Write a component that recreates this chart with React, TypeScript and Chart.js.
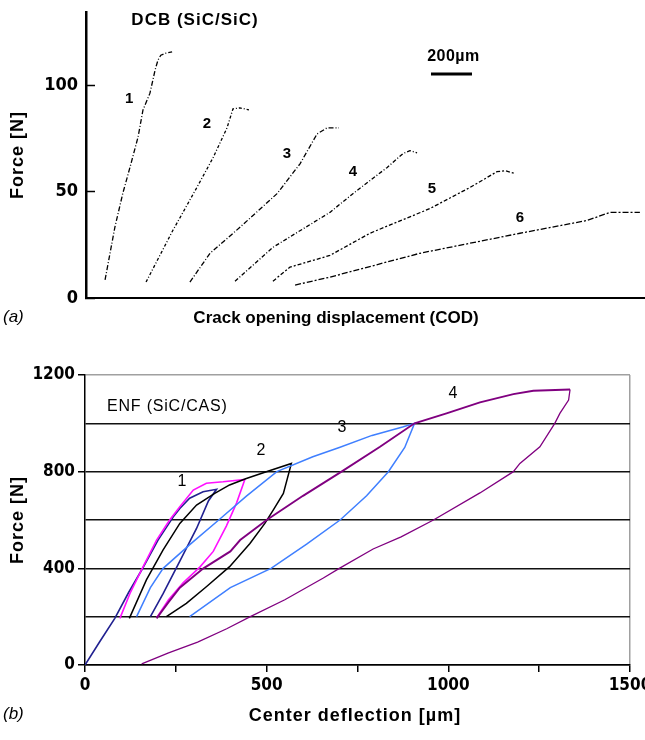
import React, { useEffect, useRef } from "react";
import { Chart, registerables } from "chart.js";

Chart.register(...registerables);

// ---------- (a) DCB (SiC/SiC): force vs crack opening displacement ----------
// x in µm (COD), y in N
const dcbCurve1: [number, number][] = [
  [93, 8.5], [141, 33.3], [180, 49.3], [215, 61.5], [254, 75.6], [278, 88.3],
  [312, 96.2], [337, 107], [351, 111.7], [365, 114], [390, 115], [420, 115.6],
];
const dcbCurve2: [number, number][] = [
  [293, 7.5], [424, 31.8], [541, 51.9], [620, 65.9], [688, 79.9], [717, 88.8],
  [751, 89.3], [795, 88.3],
];
const dcbCurve3: [number, number][] = [
  [507, 7.5], [605, 21], [751, 33.2], [932, 49], [1044, 63], [1127, 77],
  [1176, 79.9], [1234, 79.9],
];
const dcbCurve4: [number, number][] = [
  [727, 7.9], [912, 23.8], [1190, 40.2], [1302, 49], [1468, 61.2], [1546, 67.8],
  [1580, 69.2], [1615, 68.2],
];
const dcbCurve5: [number, number][] = [
  [912, 7.9], [995, 14.5], [1190, 20], [1385, 30.4], [1678, 42], [1873, 51.9],
  [2005, 59.3], [2044, 59.8], [2093, 58.4],
];
const dcbCurve6: [number, number][] = [
  [1020, 6.1], [1190, 9.8], [1629, 21], [2117, 30.4], [2444, 36.4], [2556, 40.2],
  [2639, 40.2], [2702, 40.2],
];
const dcbCurves = [dcbCurve1, dcbCurve2, dcbCurve3, dcbCurve4, dcbCurve5, dcbCurve6];
const dcbCurveNames = ["1", "2", "3", "4", "5", "6"];
const dcbNameX = [210, 590, 980, 1302, 1688, 2117];
const dcbNameY = [93.4, 81.7, 67.6, 59.2, 51.2, 37.6];
const dcbYTicks = [0, 50, 100];
const dcbXMax = 2727;
const dcbYMax = 134.3;
const scaleBarLength = 200; // µm
const scaleBarX = 1683;
const scaleBarY = 105.2;

// ---------- (b) ENF (SiC/CAS): force vs center deflection ----------
// x in µm, y in N; each cycle = loading branch followed by unloading branch
const enfCycleNavy: [number, number][] = [
  [0, 0], [40, 95], [82, 193], [120, 300], [156, 393], [201, 517], [243, 613],
  [261, 648], [288, 690], [325, 717], [362, 727],
  [340, 680], [307, 565], [261, 430], [215, 295], [180, 200],
];
const enfCycleMagenta: [number, number][] = [
  [96, 193], [124, 297], [160, 407], [197, 517], [233, 600], [261, 655],
  [298, 724], [334, 752], [380, 758], [440, 768],
  [417, 670], [389, 575], [353, 470], [316, 405], [270, 340], [230, 270], [197, 195],
];
const enfCycleBlack: [number, number][] = [
  [122, 193], [169, 352], [215, 476], [261, 586], [307, 662], [357, 710],
  [398, 745], [444, 772], [499, 800], [568, 834],
  [546, 710], [518, 641], [495, 586], [454, 503], [398, 407], [334, 324],
  [279, 255], [224, 200],
];
const enfCycleBlue: [number, number][] = [
  [142, 200], [180, 320], [215, 400], [290, 500], [368, 600], [445, 700],
  [528, 800], [627, 862], [700, 900], [790, 950], [874, 985], [907, 1000],
  [880, 900], [835, 800], [775, 700], [702, 600], [610, 500], [512, 400],
  [400, 320], [288, 200],
];
const enfCyclePurpleLoad: [number, number][] = [
  [197, 193], [230, 260], [261, 320], [326, 400], [400, 470], [427, 517],
  [500, 600], [600, 700], [706, 800], [812, 903], [907, 1000], [995, 1041],
  [1087, 1087], [1179, 1121], [1234, 1135], [1335, 1140],
];
const enfCyclePurpleUnload: [number, number][] = [
  [1335, 1140], [1331, 1096], [1307, 1041], [1293, 1000], [1252, 903],
  [1197, 834], [1179, 800], [1087, 712], [959, 600], [870, 530], [793, 480],
  [700, 400], [656, 360], [550, 270], [455, 200], [390, 150], [310, 95],
  [230, 50], [156, 5],
];
const enfCycleNames = ["1", "2", "3", "4"];
const enfNameX = [267, 484, 707, 1013];
const enfNameY = [757, 889, 984, 1121];
const enfXLabels = [0, 500, 1000, 1500];
const enfYLabels = [0, 400, 800, 1200];

const SANS = '"Liberation Sans", Arial, sans-serif';
const NARROW = '"Liberation Sans Narrow", "Arial Narrow", "DejaVu Sans Condensed", sans-serif';

const toXY = (pts: [number, number][]) => pts.map(([x, y]) => ({ x, y }));

type TextOpts = {
  font: string;
  align?: CanvasTextAlign;
  rotate?: number;
  spacing?: number;
  color?: string;
};

function drawText(ctx: CanvasRenderingContext2D, text: string, x: number, y: number, o: TextOpts) {
  ctx.save();
  ctx.font = o.font;
  ctx.fillStyle = o.color || "#000";
  ctx.textAlign = o.align || "center";
  ctx.textBaseline = "middle";
  (ctx as any).letterSpacing = `${o.spacing || 0}px`;
  ctx.translate(x, y);
  if (o.rotate) ctx.rotate(o.rotate);
  ctx.fillText(text, 0, 0);
  ctx.restore();
}

const dcbText = {
  id: "dcbText",
  afterDatasetsDraw(chart: any) {
    const { ctx } = chart;
    const xs = chart.scales.x;
    const ys = chart.scales.y;
    drawText(ctx, "DCB (SiC/SiC)", 195, 20, { font: `bold 17px ${SANS}`, spacing: 1 });
    dcbCurveNames.forEach((n, i) => {
      drawText(ctx, n, xs.getPixelForValue(dcbNameX[i]), ys.getPixelForValue(dcbNameY[i]), {
        font: `bold 15px ${SANS}`,
      });
    });
    // scale bar
    const bx0 = xs.getPixelForValue(scaleBarX);
    const bx1 = xs.getPixelForValue(scaleBarX + scaleBarLength);
    const by = ys.getPixelForValue(scaleBarY);
    ctx.save();
    ctx.strokeStyle = "#000";
    ctx.lineWidth = 3;
    ctx.beginPath();
    ctx.moveTo(bx0, by);
    ctx.lineTo(bx1, by);
    ctx.stroke();
    ctx.restore();
    drawText(ctx, "200µm", (bx0 + bx1) / 2 + 2, by - 17, { font: `bold 16px ${SANS}`, spacing: 0.5 });
    drawText(ctx, "Force [N]", 18, 155, { font: `bold 18px ${SANS}`, rotate: -Math.PI / 2, spacing: 1 });
    drawText(ctx, "Crack opening displacement (COD)", 336, 318, { font: `bold 17px ${SANS}` });
    drawText(ctx, "(a)", 3, 317, { font: `italic 17px ${SANS}`, align: "left" });
  },
};

const enfText = {
  id: "enfText",
  afterDatasetsDraw(chart: any) {
    const { ctx } = chart;
    const xs = chart.scales.x;
    const ys = chart.scales.y;
    drawText(ctx, "ENF (SiC/CAS)", 107, 67, { font: `16px ${SANS}`, align: "left", spacing: 0.8 });
    enfCycleNames.forEach((n, i) => {
      drawText(ctx, n, xs.getPixelForValue(enfNameX[i]), ys.getPixelForValue(enfNameY[i]), {
        font: `16px ${SANS}`,
      });
    });
    drawText(ctx, "Force [N]", 18, 180, { font: `bold 18px ${SANS}`, rotate: -Math.PI / 2, spacing: 1 });
    drawText(ctx, "Center deflection [µm]", 355, 376, { font: `bold 18px ${SANS}`, spacing: 1 });
    drawText(ctx, "(b)", 3, 374, { font: `italic 17px ${SANS}`, align: "left" });
  },
};

export default function App() {
  const refA = useRef<HTMLCanvasElement>(null);
  const refB = useRef<HTMLCanvasElement>(null);

  useEffect(() => {
    const dashes = [
      [5, 2, 1, 2],
      [3, 2, 1, 2],
      [5, 2, 1, 2],
      [4, 2, 1, 2],
      [4, 2, 2, 2],
      [6, 2, 2, 2],
    ];
    const chartA = new Chart(refA.current as HTMLCanvasElement, {
      type: "line",
      data: {
        datasets: dcbCurves.map((c, i) => ({
          label: dcbCurveNames[i],
          data: toXY(c),
          borderColor: "#000",
          borderWidth: 1.3,
          borderDash: dashes[i],
          pointRadius: 0,
          fill: false,
          tension: 0,
        })),
      },
      options: {
        animation: false,
        responsive: false,
        devicePixelRatio: 1,
        layout: { padding: { top: 12, left: 0, right: 0, bottom: 0 } },
        plugins: { legend: { display: false }, tooltip: { enabled: false } },
        scales: {
          x: {
            type: "linear",
            min: 0,
            max: dcbXMax,
            ticks: { display: false },
            grid: { display: true, drawOnChartArea: false, drawTicks: false },
            border: { display: true, color: "#000", width: 2 },
            afterFit: (s: any) => {
              s.height = 37;
              s.paddingLeft = 0;
              s.paddingRight = 0;
            },
          },
          y: {
            type: "linear",
            min: 0,
            max: dcbYMax,
            afterBuildTicks: (s: any) => {
              s.ticks = dcbYTicks.map((v) => ({ value: v }));
            },
            ticks: {
              color: "#000",
              padding: 17,
              font: { family: NARROW, size: 18, weight: "bold" },
            },
            grid: { drawOnChartArea: false, tickLength: -9, tickColor: "#000", tickWidth: 1.5 },
            border: { display: true, color: "#000", width: 2.5 },
            afterFit: (s: any) => {
              s.width = 86;
              s.paddingTop = 0;
              s.paddingBottom = 0;
            },
          },
        },
      } as any,
      plugins: [dcbText],
    });

    const lineDs = (label: string, pts: [number, number][], color: string, width: number) => ({
      label,
      data: toXY(pts),
      borderColor: color,
      borderWidth: width,
      pointRadius: 0,
      fill: false,
      tension: 0,
    });

    const chartB = new Chart(refB.current as HTMLCanvasElement, {
      type: "line",
      data: {
        datasets: [
          lineDs("purple unload", enfCyclePurpleUnload, "#800080", 1.3),
          lineDs("purple load", enfCyclePurpleLoad, "#800080", 1.9),
          lineDs("blue", enfCycleBlue, "#3f7fff", 1.5),
          lineDs("black", enfCycleBlack, "#000000", 1.5),
          lineDs("magenta", enfCycleMagenta, "#ff10ff", 1.6),
          lineDs("navy", enfCycleNavy, "#202090", 1.6),
        ],
      },
      options: {
        animation: false,
        responsive: false,
        devicePixelRatio: 1,
        layout: { padding: { top: 35, left: 0, right: 15, bottom: 0 } },
        plugins: { legend: { display: false }, tooltip: { enabled: false } },
        scales: {
          x: {
            type: "linear",
            min: 0,
            max: 1500,
            ticks: {
              stepSize: 250,
              autoSkip: false,
              maxRotation: 0,
              color: "#000",
              padding: 3,
              font: { family: NARROW, size: 17, weight: "bold" },
              callback: (v: any) => (enfXLabels.includes(Number(v)) ? String(v) : ""),
            },
            grid: {
              drawOnChartArea: true,
              color: (c: any) => (c.tick && c.tick.value === 1500 ? "#a0a0a0" : "rgba(0,0,0,0)"),
              lineWidth: 1.5,
              tickLength: 7,
              tickColor: "#000",
              tickWidth: 1.5,
            },
            border: { display: true, color: "#000", width: 1.5 },
            afterFit: (s: any) => {
              s.height = 75;
              s.paddingLeft = 0;
              s.paddingRight = 0;
            },
          },
          y: {
            type: "linear",
            min: 0,
            max: 1200,
            ticks: {
              stepSize: 200,
              color: "#000",
              padding: 3,
              font: { family: NARROW, size: 17, weight: "bold" },
              callback: (v: any) => (enfYLabels.includes(Number(v)) ? String(v) : ""),
            },
            grid: {
              color: (c: any) => (c.tick && c.tick.value === 1200 ? "#a0a0a0" : "#111"),
              lineWidth: 1.5,
              tickLength: 7,
              tickColor: (c: any) =>
                c.tick && enfYLabels.includes(c.tick.value) ? "#000" : "rgba(0,0,0,0)",
              tickWidth: 1.5,
            },
            border: { display: true, color: "#000", width: 1.5 },
            afterFit: (s: any) => {
              s.width = 85;
              s.paddingTop = 0;
              s.paddingBottom = 0;
            },
          },
        },
      } as any,
      plugins: [enfText],
    });

    return () => {
      chartA.destroy();
      chartB.destroy();
    };
  }, []);

  return (
    <div
      style={{
        position: "fixed",
        left: 0,
        top: 0,
        width: 645,
        height: 740,
        background: "#fff",
      }}
    >
      <canvas
        ref={refA}
        width={645}
        height={335}
        style={{ position: "absolute", left: 0, top: 0, width: 645, height: 335 }}
      />
      <canvas
        ref={refB}
        width={645}
        height={400}
        style={{ position: "absolute", left: 0, top: 340, width: 645, height: 400 }}
      />
    </div>
  );
}
